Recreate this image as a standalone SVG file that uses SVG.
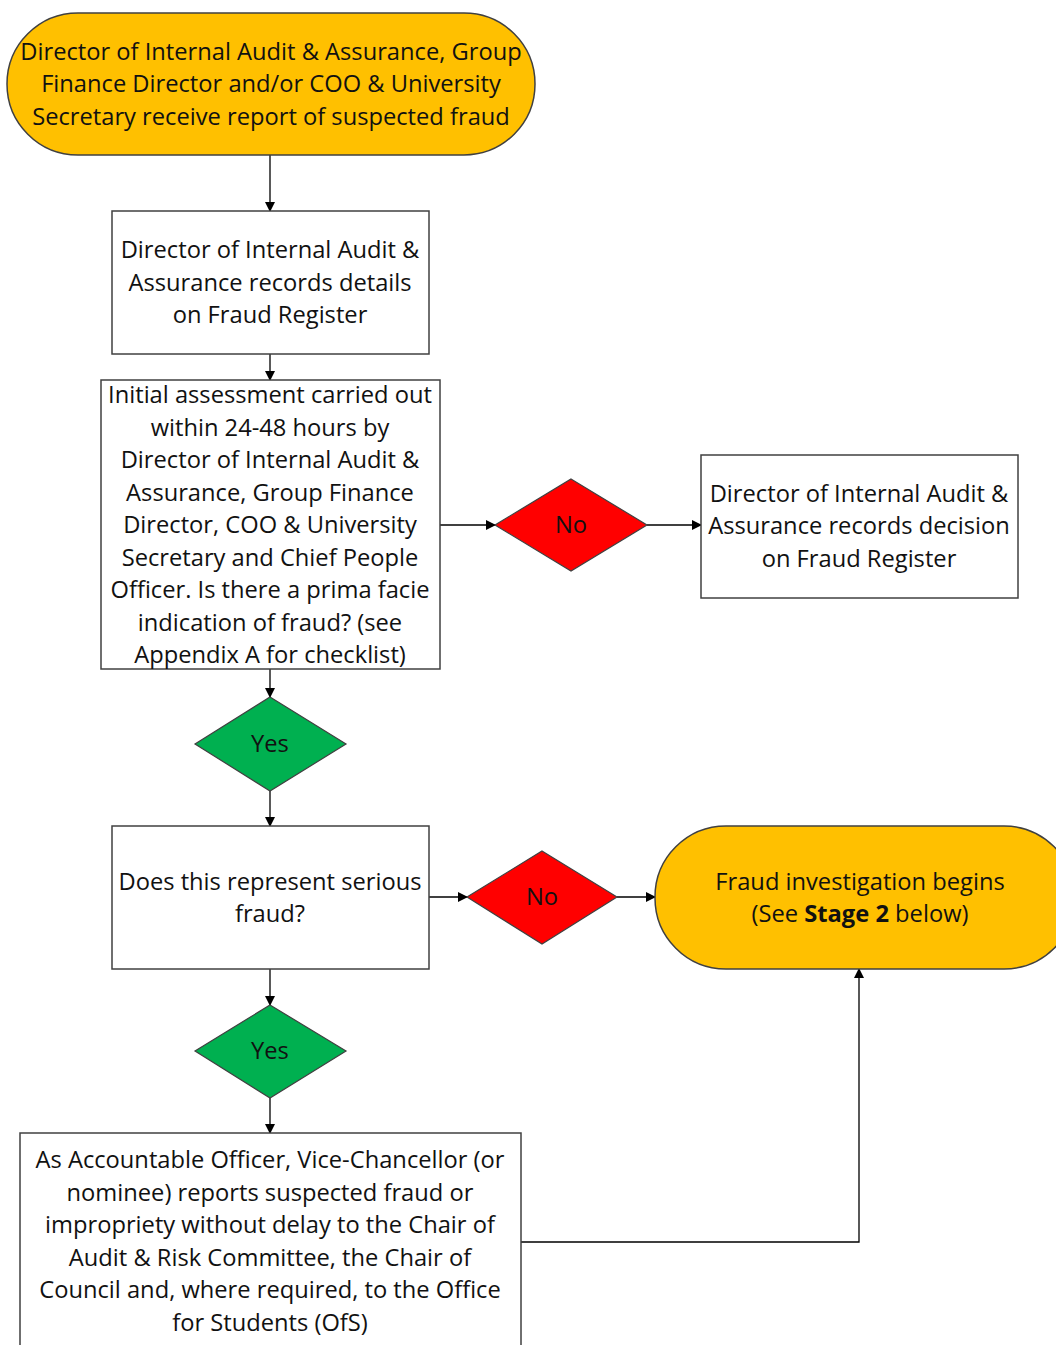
<svg xmlns="http://www.w3.org/2000/svg" width="1056" height="1345" viewBox="0 0 1056 1345">
<defs>
<marker id="ah" markerWidth="10" markerHeight="10" refX="9" refY="5" orient="auto" markerUnits="userSpaceOnUse">
<path d="M0,0 L10,5 L0,10 Z" fill="#000"/>
</marker>
<style>
.t{font-family:"Open Sans","Liberation Sans",sans-serif;font-size:23.7px;fill:#111;text-anchor:middle}
.box{fill:#fff;stroke:#404040;stroke-width:1.5}
.term{fill:#FFC000;stroke:#404040;stroke-width:1.5}
.no{fill:#FF0000;stroke:#404040;stroke-width:1.2}
.yes{fill:#00B050;stroke:#404040;stroke-width:1.2}
.c{fill:none;stroke:#000;stroke-width:1.3;marker-end:url(#ah)}
</style>
</defs>
<rect width="1056" height="1345" fill="#fff"/>
<g id="connectors">
<path class="c" d="M270,155 V211"/>
<path class="c" d="M270,354 V380"/>
<path class="c" d="M440,525 H495"/>
<path class="c" d="M647,525 H701"/>
<path class="c" d="M270,669 V697"/>
<path class="c" d="M270,791 V826"/>
<path class="c" d="M429,897 H467"/>
<path class="c" d="M617,897 H655"/>
<path class="c" d="M270,969 V1005"/>
<path class="c" d="M270,1098 V1133"/>
<path class="c" d="M521,1242 H859 V969"/>
</g>
<g id="start">
<rect class="term" x="7" y="13" width="528" height="142" rx="71" ry="71"/>
<text class="t" x="271" y="60">Director of Internal Audit &amp; Assurance, Group</text>
<text class="t" x="271" y="92">Finance Director and/or COO &amp; University</text>
<text class="t" x="271" y="125">Secretary receive report of suspected fraud</text>
</g>
<g id="record">
<rect class="box" x="112" y="211" width="317" height="143"/>
<text class="t" x="270" y="258">Director of Internal Audit &amp;</text>
<text class="t" x="270" y="291">Assurance records details</text>
<text class="t" x="270" y="323">on Fraud Register</text>
</g>
<g id="assess">
<rect class="box" x="101" y="380" width="339" height="289"/>
<text class="t" x="270" y="403">Initial assessment carried out</text>
<text class="t" x="270" y="436">within 24-48 hours by</text>
<text class="t" x="270" y="468">Director of Internal Audit &amp;</text>
<text class="t" x="270" y="501">Assurance, Group Finance</text>
<text class="t" x="270" y="533">Director, COO &amp; University</text>
<text class="t" x="270" y="566">Secretary and Chief People</text>
<text class="t" x="270" y="598">Officer. Is there a prima facie</text>
<text class="t" x="270" y="631">indication of fraud? (see</text>
<text class="t" x="270" y="663">Appendix A for checklist)</text>
</g>
<g id="no1">
<polygon class="no" points="571,479 647,525 571,571 495,525"/>
<text class="t" x="571" y="533">No</text>
</g>
<g id="decision">
<rect class="box" x="701" y="455" width="317" height="143"/>
<text class="t" x="859" y="502">Director of Internal Audit &amp;</text>
<text class="t" x="859" y="534">Assurance records decision</text>
<text class="t" x="859" y="567">on Fraud Register</text>
</g>
<g id="yes1">
<polygon class="yes" points="270,697 346,744 270,791 195,744"/>
<text class="t" x="270" y="752">Yes</text>
</g>
<g id="serious">
<rect class="box" x="112" y="826" width="317" height="143"/>
<text class="t" x="270" y="890">Does this represent serious</text>
<text class="t" x="270" y="922">fraud?</text>
</g>
<g id="no2">
<polygon class="no" points="542,851 617,897 542,944 467,897"/>
<text class="t" x="542" y="905">No</text>
</g>
<g id="investigation">
<rect class="term" x="655" y="826" width="420" height="143" rx="71" ry="71"/>
<text class="t" x="860" y="890">Fraud investigation begins</text>
<text class="t" x="860" y="922">(See <tspan font-weight="bold">Stage 2</tspan> below)</text>
</g>
<g id="yes2">
<polygon class="yes" points="270,1005 346,1051 270,1098 195,1051"/>
<text class="t" x="270" y="1059">Yes</text>
</g>
<g id="report">
<rect class="box" x="20" y="1133" width="501" height="230"/>
<text class="t" x="270" y="1168">As Accountable Officer, Vice-Chancellor (or</text>
<text class="t" x="270" y="1201">nominee) reports suspected fraud or</text>
<text class="t" x="270" y="1233">impropriety without delay to the Chair of</text>
<text class="t" x="270" y="1266">Audit &amp; Risk Committee, the Chair of</text>
<text class="t" x="270" y="1298">Council and, where required, to the Office</text>
<text class="t" x="270" y="1331">for Students (OfS)</text>
</g>
</svg>
